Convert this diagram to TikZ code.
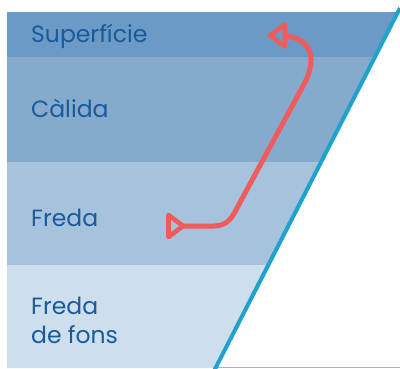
\documentclass[tikz,border=0pt]{standalone}
\usepackage{fontspec}
\setmainfont{Poppins}
\definecolor{layA}{HTML}{6A9AC5}
\definecolor{layB}{HTML}{84AACE}
\definecolor{layC}{HTML}{A5C3DD}
\definecolor{layD}{HTML}{CDDEEC}
\definecolor{txtblue}{HTML}{1B5A9B}
\definecolor{edgecyan}{HTML}{1FA2CC}
\definecolor{flowred}{HTML}{F05B5B}
\tikzset{
  lbl/.style={anchor=base west, inner sep=0pt, text=txtblue, font=\fontsize{23.5}{29}\selectfont, align=left},
  flow/.style={draw=flowred, line width=5pt},
  tipshape/.style={draw=flowred, line width=4.6pt, line join=round}
}
\begin{document}
\begin{tikzpicture}[x=1pt,y=-1pt]
\useasboundingbox (0,0) rectangle (400,368);
% layers
\fill[layA] (7,12) -- (398,12) -- (374.9,57) -- (7,57) -- cycle;
\fill[layB] (7,57) -- (374.9,57) -- (321.1,162) -- (7,162) -- cycle;
\fill[layC] (7,162) -- (321.1,162) -- (268.3,265) -- (7,265) -- cycle;
\fill[layD] (7,265) -- (268.3,265) -- (215.5,368) -- (7,368) -- cycle;
\draw[edgecyan!60, line width=1pt] (215.5,367.5) -- (400,367.5);
\draw[edgecyan, line width=4pt] (400,8.1) -- (214.5,370);
% labels
\node[lbl] (sup) at (31,42) {Superfície};
\node[lbl] (cal) at (31,117) {Càlida};
\node[lbl] (fre) at (31,226) {Freda};
\node[lbl] (fon) at (31,343) {Freda\\de fons};
% flow arrow
\coordinate (bot) at (183,226);
\coordinate (top) at (285,36);
\draw[flow] (bot) -- (214,226) .. controls (228,226) and (233,216) .. (237,208)
  -- (303,86) .. controls (318,60) and (312,38) .. (top);
\draw[tipshape] (168.5,215) -- (bot) -- (168.5,237) -- cycle;
\draw[tipshape] (270,35.5) -- (285,24.5) -- (285,46.5) -- cycle;
\end{tikzpicture}
\end{document}
